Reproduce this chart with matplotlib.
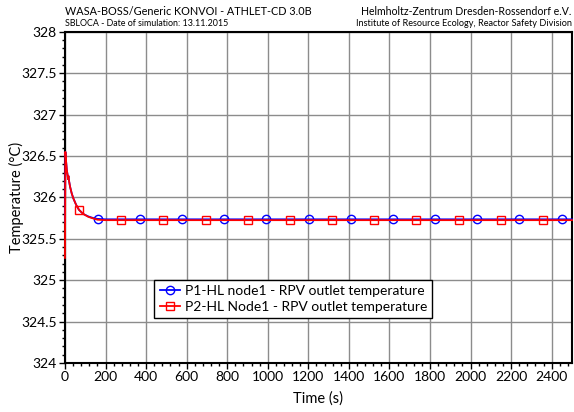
import matplotlib
matplotlib.use("Agg")
import matplotlib.pyplot as plt
from matplotlib.ticker import MultipleLocator

plt.rcParams['font.family'] = ['Lato', 'DejaVu Sans']

# time grid (s), shared by both signals
time_s = [0, 2, 5, 9, 13, 15, 17, 20, 25, 33, 41, 55, 69, 90, 115, 140, 161, 200,
          277, 369, 485, 577, 693, 785, 901, 993, 1109, 1201, 1317, 1409, 1525,
          1617, 1733, 1825, 1941, 2033, 2149, 2241, 2357, 2449, 2500]

p1_temp = [325.70, 326.55, 326.45, 326.33, 326.27, 326.22, 326.26, 326.20, 326.13,
           326.05, 325.99, 325.91, 325.85, 325.80, 325.77, 325.75, 325.74, 325.735,
           325.735, 325.735, 325.735, 325.735, 325.735, 325.735, 325.735, 325.735,
           325.735, 325.735, 325.735, 325.735, 325.735, 325.735, 325.735, 325.735,
           325.735, 325.735, 325.735, 325.735, 325.735, 325.735, 325.735]

p2_temp = [325.27, 326.55, 326.45, 326.33, 326.27, 326.22, 326.26, 326.20, 326.13,
           326.05, 325.99, 325.91, 325.85, 325.80, 325.765, 325.745, 325.73, 325.725,
           325.725, 325.725, 325.725, 325.725, 325.725, 325.725, 325.725, 325.725,
           325.725, 325.725, 325.725, 325.725, 325.725, 325.725, 325.725, 325.725,
           325.725, 325.725, 325.725, 325.725, 325.725, 325.725, 325.725]

p1_marks = [161, 369, 577, 785, 993, 1201, 1409, 1617, 1825, 2033, 2241, 2449]
p2_marks = [69, 277, 485, 693, 901, 1109, 1317, 1525, 1733, 1941, 2149, 2357]

labels = ['P1-HL node1 - RPV outlet temperature',
          'P2-HL Node1 - RPV outlet temperature']

fig = plt.figure(figsize=(5.74, 4.12), dpi=100)
ax = fig.add_axes([0.1132, 0.1189, 0.8833, 0.8040])

ax.plot(time_s, p1_temp, color='#0000ff', lw=1.3, marker='o', ms=6, mfc='none',
        mec='#0000ff', mew=1.0, markevery=[time_s.index(m) for m in p1_marks],
        label=labels[0], zorder=3, clip_on=False)
ax.plot(time_s, p2_temp, color='#ff0000', lw=1.3, marker='s', ms=5.5, mfc='none',
        mec='#ff0000', mew=1.0, markevery=[time_s.index(m) for m in p2_marks],
        label=labels[1], zorder=4, clip_on=False)

ax.set_xlim(0, 2500)
ax.set_ylim(324, 328)
ax.xaxis.set_major_locator(MultipleLocator(200))
ax.xaxis.set_minor_locator(MultipleLocator(40))
ax.yaxis.set_minor_locator(MultipleLocator(0.1))
ax.set_yticks([324, 324.5, 325, 325.5, 326, 326.5, 327, 327.5, 328])
ax.set_yticklabels(['324', '324.5', '325', '325.5', '326', '326.5', '327', '327.5', '328'])

ax.grid(True, which='major', color='#8c8c8c', lw=1.0)
ax.tick_params(which='major', direction='out', length=4, width=1, labelsize=10,
               pad=2, colors='black')
ax.tick_params(which='minor', direction='out', length=2, width=1)
for sp in ax.spines.values():
    sp.set_linewidth(1.5)
    sp.set_color('black')

ax.set_xlabel('Time (s)', fontsize=10.5, labelpad=6)
ax.set_ylabel('Temperature (°C)', fontsize=10.5)
ax.yaxis.set_label_coords(-0.081, 0.5)

leg = ax.legend(loc='lower left', bbox_to_anchor=(0.1755, 0.135), fontsize=10,
                frameon=True, fancybox=False, framealpha=1, edgecolor='black',
                handlelength=1.5, numpoints=1, borderpad=0.4, labelspacing=0.25,
                handletextpad=0.3, borderaxespad=0)
leg.get_frame().set_linewidth(1.0)

fig.text(0.1132, 0.9716, 'WASA-BOSS/Generic KONVOI - ATHLET-CD 3.0B', fontsize=7.8,
         ha='left', va='center')
fig.text(0.1132, 0.9434, 'SBLOCA - Date of simulation: 13.11.2015', fontsize=6.4,
         ha='left', va='center')
fig.text(0.996, 0.9716, 'Helmholtz-Zentrum Dresden-Rossendorf e.V.', fontsize=7.6,
         ha='right', va='center')
fig.text(0.996, 0.9434, 'Institute of Resource Ecology, Reactor Safety Division',
         fontsize=6.6, ha='right', va='center')

fig.savefig('out.png', dpi=100)
